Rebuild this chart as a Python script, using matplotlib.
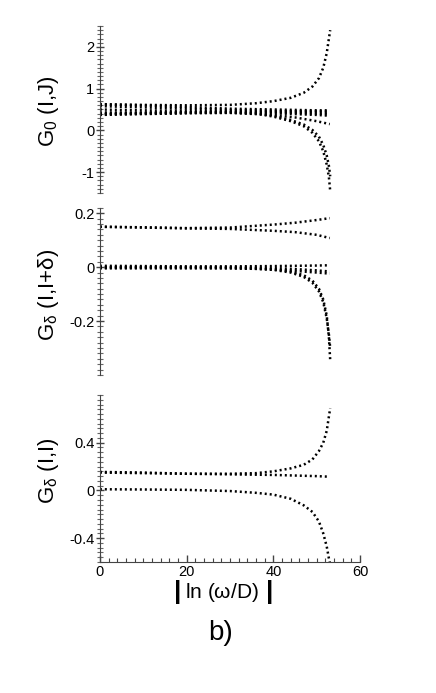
import numpy as np
import matplotlib
matplotlib.use("Agg")
import matplotlib.pyplot as plt
from matplotlib.ticker import MultipleLocator

plt.rcParams['font.family'] = ['Liberation Sans', 'DejaVu Sans']
plt.rcParams['mathtext.fontset'] = 'custom'
plt.rcParams['mathtext.rm'] = 'Liberation Sans'
plt.rcParams['mathtext.it'] = 'Liberation Sans'
plt.rcParams['axes.unicode_minus'] = False

# flow values, x = |ln(w/D)|
x_flat = [0, 10, 20, 30, 40, 45, 50, 53]
x_div = [0, 10, 20, 30, 36, 40, 44, 47, 49, 50.5, 51.5, 52.3, 52.8, 53.1]

# panel a: G0(I,J)
g0_band = [
    [0.63, 0.60, 0.56, 0.52, 0.50, 0.49, 0.48, 0.48],
    [0.58, 0.55, 0.52, 0.49, 0.47, 0.46, 0.46, 0.45],
    [0.50, 0.48, 0.47, 0.46, 0.45, 0.44, 0.43, 0.42],
    [0.43, 0.43, 0.44, 0.44, 0.43, 0.42, 0.40, 0.38],
    [0.37, 0.39, 0.41, 0.42, 0.41, 0.39, 0.37, 0.35],
    [0.40, 0.41, 0.42, 0.42, 0.37, 0.31, 0.22, 0.15],
]
g0_up = [0.62, 0.61, 0.60, 0.61, 0.65, 0.70, 0.78, 0.90, 1.05, 1.25, 1.50, 1.85, 2.20, 2.40]
g0_down = [0.38, 0.40, 0.42, 0.43, 0.40, 0.33, 0.22, 0.10, -0.06, -0.26, -0.50, -0.82, -1.12, -1.45]
g0_down2 = [0.39, 0.41, 0.42, 0.43, 0.41, 0.35, 0.25, 0.14, 0.01, -0.15, -0.35, -0.60, -0.85, -1.10]

# panel b: Gdelta(I,I+delta)
gd1_band = [
    [0.150, 0.148, 0.145, 0.147, 0.158, 0.165, 0.175, 0.182],
    [0.150, 0.147, 0.144, 0.142, 0.135, 0.130, 0.120, 0.108],
    [0.005, 0.004, 0.003, 0.003, 0.004, 0.005, 0.006, 0.007],
    [0.000, 0.000, 0.000, 0.000, -0.003, -0.007, -0.012, -0.016],
    [-0.004, -0.004, -0.004, -0.004, -0.008, -0.014, -0.020, -0.024],
]
gd1_div = [0.0, 0.0, 0.0, -0.002, -0.004, -0.008, -0.016, -0.030, -0.050, -0.080, -0.120, -0.180, -0.260, -0.345]
gd1_div2 = [-0.003, -0.003, -0.003, -0.004, -0.006, -0.010, -0.020, -0.036, -0.058, -0.090, -0.130, -0.190, -0.250, -0.300]

# panel c: Gdelta(I,I)
gd0_up = [0.150, 0.145, 0.140, 0.140, 0.145, 0.160, 0.185, 0.215, 0.260, 0.330, 0.400, 0.500, 0.620, 0.690]
gd0_mid = [0.155, 0.150, 0.140, 0.135, 0.130, 0.125, 0.120, 0.115]
gd0_low = [0.010, 0.008, 0.005, -0.005, -0.020, -0.035, -0.070, -0.125, -0.180, -0.260, -0.360, -0.470, -0.570, -0.620]

fig = plt.figure(figsize=(4.36, 6.93), dpi=100)
ax1 = fig.add_axes([0.229, 0.7215, 0.597, 0.241])
ax2 = fig.add_axes([0.229, 0.459, 0.597, 0.241])
ax3 = fig.add_axes([0.229, 0.189, 0.597, 0.241])

dots = dict(color='black', lw=1.8, ls=(0, (0.8, 1.2)), dash_capstyle='butt')

for y in g0_band:
    ax1.plot(x_flat, y, **dots)
ax1.plot(x_div, g0_up, **dots)
ax1.plot(x_div, g0_down, **dots)
ax1.plot(x_div, g0_down2, **dots)

for y in gd1_band:
    ax2.plot(x_flat, y, **dots)
ax2.plot(x_div, gd1_div, **dots)
ax2.plot(x_div, gd1_div2, **dots)

ax3.plot(x_div, gd0_up, **dots)
ax3.plot(x_flat, gd0_mid, **dots)
ax3.plot(x_div, gd0_low, **dots)

ax1.set_ylim(-1.5, 2.5)
ax2.set_ylim(-0.4, 0.22)
ax3.set_ylim(-0.6, 0.8)

ax1.set_yticks([-1, 0, 1, 2])
ax1.yaxis.set_minor_locator(MultipleLocator(0.1))
ax2.set_yticks([-0.2, 0, 0.2])
ax2.set_yticklabels(['-0.2', '0', '0.2'])
ax2.yaxis.set_minor_locator(MultipleLocator(0.02))
ax3.set_yticks([-0.4, 0, 0.4])
ax3.set_yticklabels(['-0.4', '0', '0.4'])
ax3.yaxis.set_minor_locator(MultipleLocator(0.04))

for ax in (ax1, ax2, ax3):
    ax.set_xlim(0, 60)
    for s in ('top', 'right'):
        ax.spines[s].set_visible(False)
    ax.spines['left'].set_color('#444444')
    ax.tick_params(axis='y', which='major', direction='inout', length=6, width=1,
                   color='#444444', labelsize=10.5, pad=1)
    ax.tick_params(axis='y', which='minor', direction='inout', length=4, width=0.8,
                   color='#666666')

for ax in (ax1, ax2):
    ax.spines['bottom'].set_visible(False)
    ax.set_xticks([])

ax3.spines['bottom'].set_color('#444444')
ax3.set_xticks([0, 20, 40, 60])
ax3.xaxis.set_minor_locator(MultipleLocator(2))
ax3.tick_params(axis='x', which='major', direction='in', length=5, width=1,
                color='#444444', labelsize=10.5, pad=2)
ax3.tick_params(axis='x', which='minor', direction='in', length=3, width=0.8,
                color='#444444')

ax1.set_ylabel(r'G$_{0}$ (I,J)', fontsize=16)
ax2.set_ylabel(r'G$_{\delta}$ (I,I+$\delta$)', fontsize=16)
ax3.set_ylabel(r'G$_{\delta}$ (I,I)', fontsize=16)
ax1.yaxis.set_label_coords(-0.15, 0.49)
ax2.yaxis.set_label_coords(-0.15, 0.48)
ax3.yaxis.set_label_coords(-0.15, 0.55)

# x label with tall bars
fig.text(0.510, 0.145, r'ln ($\omega$/D)', fontsize=15, ha='center', va='center')
fig.text(0.408, 0.146, '|', fontsize=19, fontweight='bold', ha='center', va='center')
fig.text(0.619, 0.146, '|', fontsize=19, fontweight='bold', ha='center', va='center')

fig.text(0.505, 0.087, 'b)', fontsize=20, ha='center', va='center')

fig.savefig('out.png', dpi=100)
